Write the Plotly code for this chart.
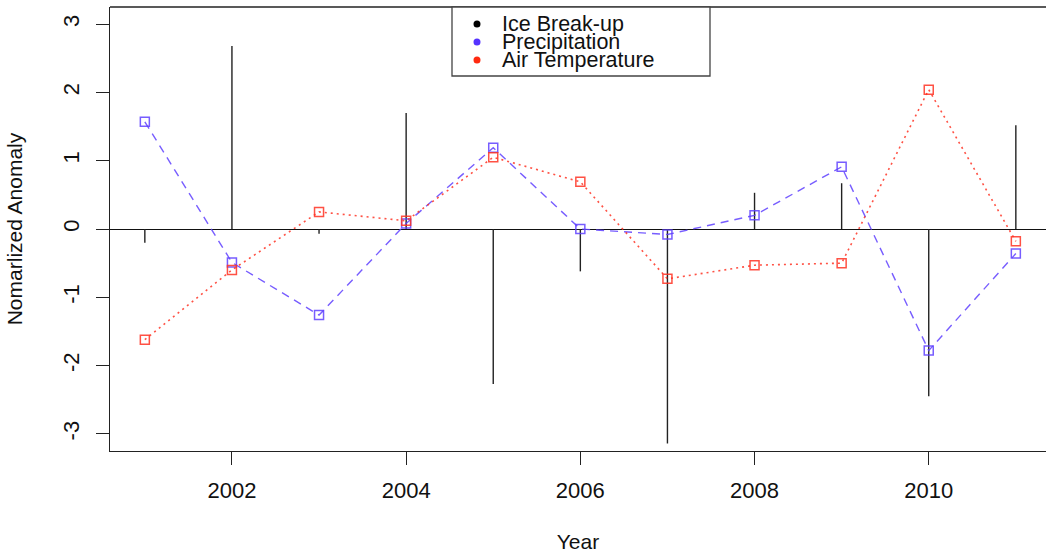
import plotly.graph_objects as go

years = list(range(2001, 2012))
ice_breakup = [-0.2, 2.68, -0.07, 1.7, -2.27, -0.62, -3.14, 0.53, 0.67, -2.45, 1.52]
precipitation = [1.57, -0.49, -1.26, 0.08, 1.19, 0.0, -0.08, 0.2, 0.91, -1.78, -0.36]
air_temperature = [-1.62, -0.6, 0.25, 0.12, 1.05, 0.69, -0.73, -0.53, -0.5, 2.04, -0.18]
x_ticks = [2002, 2004, 2006, 2008, 2010]
y_ticks = [-3, -2, -1, 0, 1, 2, 3]
y_tick_labels = ["-3", "-2", "-1", "0", "1", "2", "3"]
legend_labels = ["Ice Break-up", "Precipitation", "Air Temperature"]
legend_colors = ["#000000", "#5533ff", "#ff2a10"]

FONT = "Liberation Sans, Arial, Helvetica, sans-serif"
AX = "#222222"
blue_line = "rgba(95,65,255,0.85)"
red_line = "rgba(255,50,35,0.85)"

# type='h' vertical lines from zero
hx, hy = [], []
for x, v in zip(years, ice_breakup):
    hx += [x, x, None]
    hy += [0, v, None]

fig = go.Figure()
fig.add_trace(go.Scatter(x=hx, y=hy, mode="lines", name="Ice Break-up",
                         line=dict(color="#222222", width=1.4), showlegend=False,
                         hoverinfo="skip"))
fig.add_trace(go.Scatter(x=years, y=precipitation, mode="lines+markers", name="Precipitation",
                         line=dict(color=blue_line, width=1.4, dash="8px,6px"),
                         marker=dict(symbol="square-open", size=9, color=blue_line,
                                     line=dict(width=1.5, color=blue_line)),
                         showlegend=False))
fig.add_trace(go.Scatter(x=years, y=air_temperature, mode="lines+markers", name="Air Temperature",
                         line=dict(color=red_line, width=1.6, dash="2px,4px"),
                         marker=dict(symbol="square-open", size=9, color=red_line,
                                     line=dict(width=1.5, color=red_line)),
                         showlegend=False))

W, H = 1046, 557
ml, mr, mt, mb = 110, 0, 7, 106
pw, ph = W - ml - mr, H - mt - mb

def px_x(p):
    return (p - ml) / pw

def px_y(p):
    return 1 - (p - mt) / ph

shapes = [
    dict(type="line", xref="paper", yref="paper", x0=0, x1=1, y0=1, y1=1,
         line=dict(color=AX, width=1.3)),
    dict(type="rect", xref="paper", yref="paper",
         x0=px_x(452), x1=px_x(710), y0=px_y(76), y1=px_y(7),
         line=dict(color="#444444", width=1.3), fillcolor="white", layer="above"),
]
annotations = []
legend_y = [24, 42, 60]
for lab, col, yy in zip(legend_labels, legend_colors, legend_y):
    r = 3.5
    shapes.append(dict(type="circle", xref="paper", yref="paper",
                       x0=px_x(477 - r), x1=px_x(477 + r), y0=px_y(yy + r), y1=px_y(yy - r),
                       fillcolor=col, line=dict(color=col, width=0), layer="above"))
    annotations.append(dict(xref="paper", yref="paper", x=px_x(500), y=px_y(yy),
                            xanchor="left", yanchor="middle", text=lab, showarrow=False,
                            font=dict(family=FONT, size=21.5, color="#111111")))

fig.update_layout(
    width=W, height=H,
    margin=dict(l=ml, r=mr, t=mt, b=mb, pad=0),
    paper_bgcolor="white", plot_bgcolor="white",
    font=dict(family=FONT, size=21, color="#111111"),
    shapes=shapes, annotations=annotations,
    xaxis=dict(range=[2000.6, 2000.6 + pw / 87.1], tickvals=x_ticks, ticks="outside",
               ticklen=13, tickwidth=1.3, tickcolor=AX, showline=True, linecolor=AX,
               linewidth=1.3, showgrid=False, zeroline=False, automargin=False,
               ticklabelstandoff=6,
               title=dict(text="Year", standoff=32, font=dict(size=21)),
               tickfont=dict(size=22)),
    yaxis=dict(range=[-3.25, 3.25], tickvals=y_ticks, ticktext=y_tick_labels,
               ticks="outside", ticklen=13,
               tickwidth=1.3, tickcolor=AX, showline=True, linecolor=AX, linewidth=1.3,
               showgrid=False, zeroline=True, zerolinecolor="#111111", zerolinewidth=1.4,
               tickangle=-90, automargin=False, ticklabelstandoff=8,
               title=dict(text="Nomarlized Anomaly", standoff=30, font=dict(size=21)),
               tickfont=dict(size=22)),
)

fig.write_html("out.html")
